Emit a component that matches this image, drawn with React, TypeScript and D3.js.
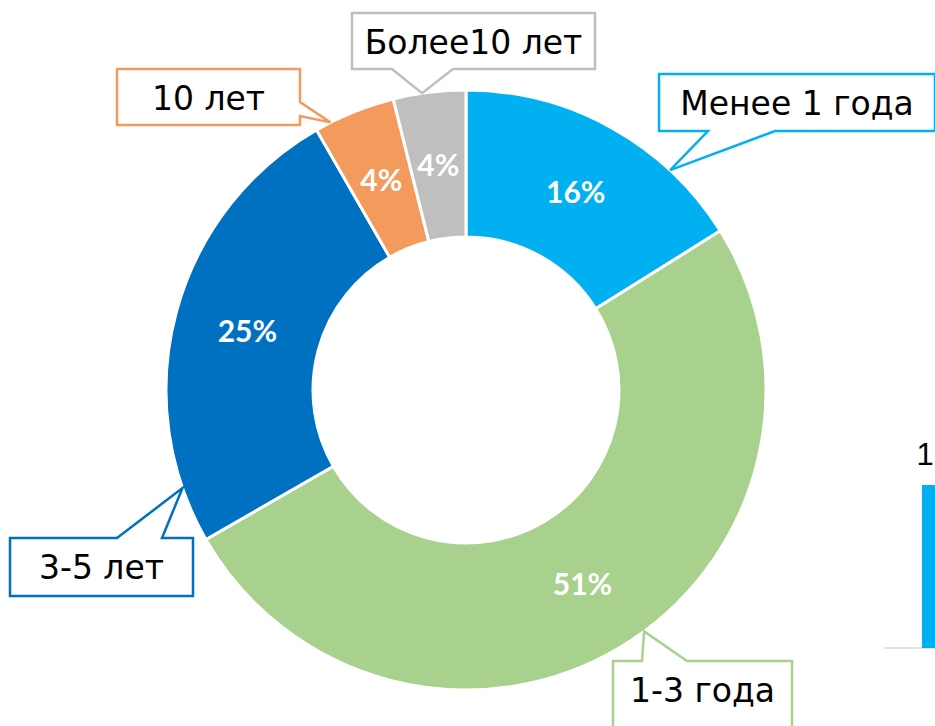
import React from 'react';
import * as d3 from 'd3';

// donut slices, clockwise from 12 o'clock
const categories = ['Менее 1 года', '1-3 года', '3-5 лет', '10 лет', 'Более10 лет'];
const shares = [16.1, 50.6, 25.0, 4.4, 3.9];
const colors = ['#00B0F0', '#A9D18E', '#0070C0', '#F39B5D', '#BFBFBF'];

// clipped neighbour chart on the right edge
const sideLabels = ['1'];
const sideValues = [16];

const W = 935;
const H = 726;
const cx = 466;
const cy = 390;
const outerR = 300;
const innerR = 153;

// callout boxes: rect, side of the notch, notch base, where on the slice the tip lands (0..1)
const callouts = [
    { x: 659, y: 74, w: 276, h: 57, side: 'bottom', b: [708, 775], at: 0.74 },
    { x: 613, y: 661, w: 179, h: 80, side: 'top', b: [642, 687], at: 0.47 },
    { x: 10, y: 538, w: 183, h: 58, side: 'top', b: [117, 162], at: 0.12 },
    { x: 117, y: 69, w: 183, h: 56, side: 'right', b: [102, 116], at: 0.19 },
    { x: 352, y: 13, w: 243, h: 56, side: 'bottom', b: [392, 453], at: 0.4 },
];

const calloutPath = (c, tip) => {
    const { x, y, w, h, side, b } = c;
    const p = [[x, y]];
    if (side === 'top') p.push([b[0], y], tip, [b[1], y]);
    p.push([x + w, y]);
    if (side === 'right') p.push([x + w, b[0]], tip, [x + w, b[1]]);
    p.push([x + w, y + h]);
    if (side === 'bottom') p.push([b[1], y + h], tip, [b[0], y + h]);
    p.push([x, y + h]);
    return 'M' + p.map(q => q.join(',')).join('L') + 'Z';
};

const Donut = () => {
    const pie = d3.pie<number>().sort(null).value(d => d);
    const arcs = pie(shares);
    const arc = d3.arc<any>().innerRadius(innerR).outerRadius(outerR);
    const labelArc = d3.arc<any>().innerRadius((innerR + outerR) / 2).outerRadius((innerR + outerR) / 2);

    return (
        <g transform={`translate(${cx},${cy})`}>
            {arcs.map((a, i) => (
                <path key={'s' + i} d={arc(a) as string} fill={colors[i]} stroke="#fff" strokeWidth={3} />
            ))}
            {arcs.map((a, i) => {
                const [lx, ly] = labelArc.centroid(a);
                return (
                    <text key={'p' + i} x={lx} y={ly} dy="0.36em" textAnchor="middle" fill="#fff"
                        style={{ font: 'bold 30px Lato, "DejaVu Sans", sans-serif' }}>
                        {Math.round(shares[i]) + '%'}
                    </text>
                );
            })}
        </g>
    );
};

const Callouts = () => {
    const arcs = d3.pie<number>().sort(null).value(d => d)(shares);
    return (
        <g>
            {callouts.map((c, i) => {
                const a = arcs[i];
                const ang = a.startAngle + (a.endAngle - a.startAngle) * c.at;
                const tip = [cx + outerR * Math.sin(ang), cy - outerR * Math.cos(ang)];
                return (
                    <g key={'c' + i}>
                        <path d={calloutPath(c, tip)} fill="#fff" stroke={colors[i]} strokeWidth={2.5} strokeLinejoin="miter" />
                        <text x={c.x + c.w / 2} y={c.y + 41} textAnchor="middle" fill="#000"
                            style={{ font: '33px "DejaVu Sans", sans-serif' }}>
                            {categories[i]}
                        </text>
                    </g>
                );
            })}
        </g>
    );
};

const SideChart = () => {
    const y = d3.scaleLinear().domain([0, 16]).range([648, 485]);
    const x = d3.scaleBand().domain(sideLabels).range([922, 950]);
    return (
        <g>
            <line x1={884} x2={W} y1={648} y2={648} stroke="#D9D9D9" strokeWidth={1.5} />
            {sideValues.map((v, i) => (
                <g key={'b' + i}>
                    <rect x={x(sideLabels[i])} y={y(v)} width={x.bandwidth()} height={y(0) - y(v)} fill="#00B0F0" />
                    <text x={(x(sideLabels[i]) as number) + 3} y={y(v) - 20} textAnchor="middle" fill="#000"
                        style={{ font: '31px "Liberation Sans Narrow", "Liberation Sans", sans-serif' }}>
                        {sideLabels[i]}
                    </text>
                </g>
            ))}
        </g>
    );
};

export default function App() {
    return (
        <div style={{ position: 'fixed', left: 0, top: 0, width: W, height: H, background: '#fff' }}>
            <svg width={W} height={H} viewBox={`0 0 ${W} ${H}`}>
                <SideChart />
                <Donut />
                <Callouts />
            </svg>
        </div>
    );
}
